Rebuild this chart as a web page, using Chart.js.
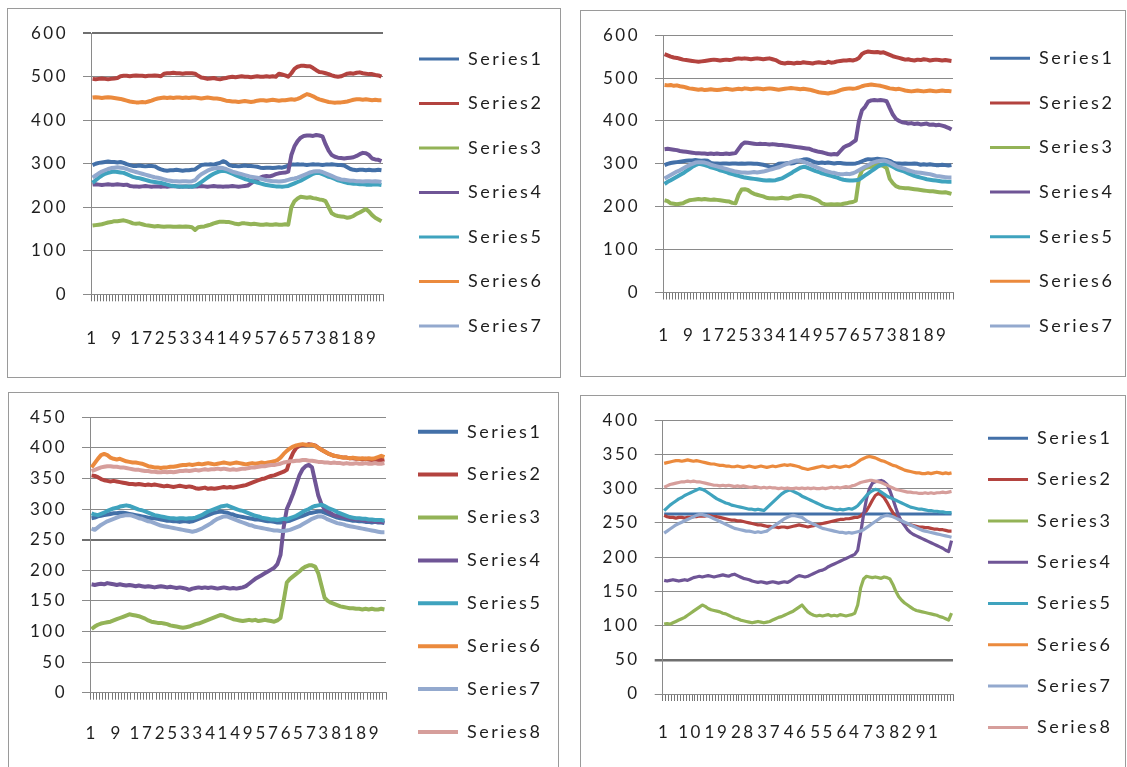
<!DOCTYPE html>
<html>
<head>
<meta charset="utf-8">
<title>Series overview</title>
<script src="https://cdn.jsdelivr.net/npm/chart.js@4.4.0/dist/chart.umd.min.js"></script>
<style>
  html, body { margin: 0; padding: 0; background: #ffffff; }
  body { position: relative; width: 1127px; height: 767px; overflow: hidden; }
  .frame { position: absolute; box-sizing: border-box; border: 1px solid #9a9a9a; background: #ffffff; }
  canvas { position: absolute; }
</style>
</head>
<body>
<div class="frame" style="left:7px;top:8px;width:554px;height:370px"></div>
<div class="frame" style="left:580px;top:10px;width:546px;height:367px"></div>
<div class="frame" style="left:8px;top:392px;width:551px;height:420px"></div>
<div class="frame" style="left:580px;top:395px;width:546px;height:420px"></div>
<canvas id="c1" width="554" height="370" style="left:7px;top:8px"></canvas>
<canvas id="c2" width="546" height="367" style="left:580px;top:10px"></canvas>
<canvas id="c3" width="551" height="375" style="left:8px;top:392px"></canvas>
<canvas id="c4" width="546" height="372" style="left:580px;top:395px"></canvas>
<script>
// ---------- data ----------
const SERIES_NAMES = ['Series1', 'Series2', 'Series3', 'Series4', 'Series5', 'Series6', 'Series7', 'Series8'];

// panel 1 (94 samples)
const p1Series1 = [297,300,302,303,304,305,304,304,303,304,302,299,297,295,295,296,295,294,295,295,294,290,287,285,284,285,285,286,285,284,285,285,286,287,292,297,298,298,299,298,300,302,306,303,297,295,295,294,295,296,295,295,294,293,291,290,291,291,290,291,292,291,293,296,298,298,299,298,298,297,298,299,298,298,297,298,298,299,298,297,297,296,292,288,286,285,286,286,285,286,285,285,286,285];
const p1Series2 = [495,494,495,496,495,494,495,496,497,501,502,502,501,502,503,502,502,501,502,502,503,502,501,507,508,508,509,508,508,507,508,508,508,507,502,498,497,495,496,497,495,494,496,497,499,500,499,500,501,500,500,499,500,501,500,500,501,500,501,500,507,505,503,500,508,518,523,525,525,524,524,520,515,511,510,508,506,503,501,500,501,504,507,508,507,509,510,508,507,506,506,504,503,500];
const p1Series3 = [158,159,160,161,163,165,166,168,168,169,170,168,166,163,162,163,161,159,158,157,156,157,156,155,156,156,155,155,156,155,156,155,154,148,154,155,156,158,160,163,165,167,167,166,166,164,162,161,163,163,162,161,162,161,160,160,161,160,160,161,160,160,161,160,200,214,220,224,223,222,223,221,220,218,217,214,200,186,182,180,179,178,176,177,180,185,188,192,196,190,182,176,172,168];
const p1Series4 = [252,253,252,251,252,253,252,252,253,252,251,252,249,248,248,247,248,249,248,247,248,248,247,248,247,248,249,248,247,248,248,247,248,248,248,249,248,247,248,249,248,248,247,248,248,249,248,247,248,249,250,255,260,264,268,271,272,271,273,276,278,279,280,282,320,340,352,360,364,365,365,364,366,365,363,345,330,320,316,314,313,312,313,314,315,318,322,325,324,320,312,310,309,306];
const p1Series5 = [256,262,268,273,277,279,281,282,281,280,279,276,273,270,268,267,265,263,261,259,258,257,256,254,252,250,249,248,248,247,248,248,247,249,253,258,263,268,273,277,280,283,284,283,280,277,274,271,268,265,263,261,259,257,255,253,251,250,249,248,248,247,248,249,252,255,258,261,265,269,273,277,279,279,276,273,270,268,265,262,260,258,256,255,254,254,253,253,252,252,252,253,252,251];
const p1Series6 = [452,453,452,451,452,453,452,451,450,449,447,445,443,442,441,441,442,441,443,445,448,450,451,452,451,452,451,452,452,451,452,451,452,452,451,450,451,452,451,450,450,449,447,445,444,443,443,442,443,444,443,442,443,445,446,446,445,446,447,446,445,446,446,447,448,447,449,452,456,460,458,455,451,448,446,444,442,441,440,441,441,442,443,445,447,448,448,447,448,447,446,447,446,446];
const p1Series7 = [268,273,278,282,285,288,290,291,292,291,290,288,285,283,281,279,277,275,273,271,269,268,266,264,262,261,260,260,259,260,260,259,260,262,270,276,280,284,287,289,290,291,290,288,285,282,280,278,276,274,272,270,269,268,266,264,262,261,260,260,259,260,261,263,265,266,268,271,274,277,280,282,283,283,281,278,275,272,269,266,264,263,262,261,261,260,260,259,260,260,259,260,259,258];

// panel 2 (94 samples)
const p2Series1 = [297,300,302,303,304,305,306,307,308,308,309,308,307,308,307,302,301,301,300,301,301,300,301,301,300,301,300,301,301,300,300,299,298,296,294,293,296,300,301,301,302,301,302,305,308,310,311,309,306,303,302,303,302,303,302,301,302,302,301,300,300,300,301,303,306,309,311,310,311,312,311,310,309,307,303,301,301,300,301,300,300,301,300,298,299,298,299,298,297,297,298,297,296,297];
const p2Series2 = [556,553,550,548,547,545,543,542,541,540,539,538,539,540,541,542,543,542,541,542,543,542,543,545,546,545,546,545,544,545,546,545,544,545,546,544,542,538,535,534,536,535,534,536,535,537,536,535,534,536,537,536,535,538,536,537,539,540,541,541,542,541,543,547,556,560,562,561,560,561,559,560,557,554,551,549,547,545,543,544,542,541,543,542,544,543,541,542,543,542,541,542,541,540];
const p2Series3 = [215,213,208,207,206,207,208,212,215,216,217,218,217,218,217,216,217,216,215,214,213,212,209,208,228,240,241,239,234,230,228,226,224,221,220,220,219,220,221,220,219,221,224,225,226,225,224,223,220,217,214,208,206,205,206,205,206,205,207,208,210,211,214,265,285,290,292,293,295,296,297,295,290,265,255,248,245,244,243,243,242,241,240,239,238,237,236,236,235,234,233,234,232,230];
const p2Series4 = [334,335,334,333,332,330,329,328,327,326,325,325,324,324,323,324,323,324,323,323,324,323,324,325,335,345,350,349,348,347,346,347,346,346,345,346,345,344,344,343,342,341,340,339,338,337,336,335,332,330,328,327,325,323,322,323,322,330,338,342,345,350,355,400,425,433,445,448,449,448,449,448,446,430,415,405,400,397,396,394,395,393,394,392,393,394,391,392,390,391,389,387,384,380];
const p2Series5 = [253,258,262,266,270,274,278,283,288,293,297,300,299,297,295,292,290,288,285,283,281,278,276,274,272,270,268,267,266,265,264,263,262,261,262,261,262,264,266,270,274,278,283,287,291,293,292,289,286,283,281,278,276,274,272,270,268,265,263,262,261,261,262,263,268,273,278,283,288,293,297,299,300,297,293,289,286,284,281,278,275,272,270,268,266,264,263,262,261,260,259,259,258,258];
const p2Series6 = [484,483,484,482,483,481,480,478,476,475,474,473,474,472,473,474,473,472,473,474,475,474,473,474,475,474,476,475,474,475,476,475,474,475,476,475,474,473,474,475,476,477,476,475,474,475,474,473,471,469,467,466,465,464,466,467,469,472,474,475,476,475,476,478,481,483,484,485,484,483,482,480,478,476,475,474,475,473,471,470,469,470,471,470,469,470,471,470,469,470,471,470,470,469];
const p2Series7 = [266,270,274,278,282,285,289,293,297,300,303,304,304,303,301,298,296,294,292,290,288,286,284,282,281,280,280,279,280,281,280,281,282,284,286,288,290,292,295,298,301,304,306,308,307,305,302,299,296,293,290,287,284,282,280,279,277,276,276,277,276,278,281,285,289,293,297,301,304,306,307,308,306,303,299,295,292,290,288,285,283,281,280,279,278,277,276,274,272,271,270,269,268,268];

// panel 3 (94 samples)
const p3Series1 = [285,286,288,289,290,291,292,293,293,294,294,293,292,291,290,289,288,287,286,285,285,284,283,282,281,281,280,280,279,280,280,279,280,282,284,286,288,290,292,294,295,296,295,294,292,291,289,288,287,286,285,284,283,283,282,281,280,280,279,278,278,279,280,281,283,285,287,289,291,293,294,295,296,296,294,292,290,288,286,285,284,283,282,281,281,280,280,279,279,278,279,278,278,277];
const p3Series2 = [355,354,352,349,347,346,345,346,345,344,343,342,341,341,340,341,340,339,340,339,340,339,338,337,338,337,336,337,338,337,336,337,336,334,333,334,335,333,334,333,334,335,336,335,336,335,336,337,338,339,341,343,345,347,349,350,352,354,355,357,359,361,364,380,392,400,403,405,404,406,405,404,400,397,394,391,389,387,386,385,384,384,383,383,382,382,381,382,381,380,381,380,380,381];
const p3Series3 = [104,108,111,113,114,115,116,118,120,122,124,126,128,127,126,125,123,121,118,116,115,114,114,113,112,110,109,108,107,106,107,108,110,112,113,115,117,119,121,123,125,127,126,124,122,120,119,118,117,118,119,118,119,117,118,119,118,117,116,118,122,150,180,186,190,194,198,203,206,208,208,206,195,175,155,150,147,145,143,141,140,139,138,138,137,137,136,137,136,137,136,136,137,136];
const p3Series4 = [177,176,177,178,177,179,178,177,176,177,176,175,176,175,174,175,174,173,174,173,172,173,174,173,172,173,172,171,172,171,170,168,170,171,172,171,172,171,172,171,170,171,172,171,170,171,170,171,172,174,178,182,186,189,192,195,198,201,204,210,225,270,300,312,325,340,355,365,370,372,368,345,322,308,300,296,293,290,289,288,287,286,285,284,283,283,282,281,281,280,280,279,279,278];
const p3Series5 = [293,291,290,292,294,297,299,301,302,304,305,306,305,303,301,299,298,296,294,292,290,289,288,287,286,285,285,284,285,285,284,285,285,286,288,290,293,296,298,300,302,304,305,306,304,302,300,298,297,295,293,291,289,288,286,285,284,283,283,282,283,284,283,285,287,289,292,295,298,300,303,305,306,307,305,302,300,298,295,293,291,289,287,286,285,285,284,284,283,283,282,282,282,281];
const p3Series6 = [368,375,382,388,390,388,384,382,381,382,380,378,377,376,376,375,374,372,370,369,368,368,367,368,368,369,369,370,371,372,372,373,372,373,374,373,374,375,374,373,374,375,376,375,374,375,376,375,374,373,374,375,374,375,376,375,376,377,378,380,384,390,395,399,402,404,405,406,405,404,405,403,400,397,394,391,389,387,386,385,384,384,383,384,383,382,383,382,383,382,383,385,387,385];
const p3Series7 = [268,266,270,274,277,280,282,284,286,288,289,290,290,289,287,285,284,282,280,279,277,275,273,272,271,270,269,268,267,266,265,264,263,264,266,268,271,274,277,281,284,286,288,288,286,284,282,280,278,276,274,273,271,270,269,268,267,266,265,265,264,264,265,266,268,270,272,275,278,281,284,286,288,288,286,283,281,279,277,276,275,273,272,271,270,269,268,267,266,265,264,263,262,262];
const p3Series8 = [362,364,366,368,369,370,370,369,369,368,368,367,366,365,364,364,363,362,362,361,361,360,360,361,360,361,360,361,362,362,363,362,363,364,363,364,365,364,365,365,366,365,366,365,364,365,364,365,366,366,367,368,368,369,370,370,371,372,372,373,374,376,377,378,378,379,379,380,380,379,379,378,377,377,376,376,375,376,375,375,374,375,374,374,375,374,374,375,374,374,375,374,374,375];

// panel 4 (99 samples)
const p4Series1 = [263,263,263,263,263,263,263,263,263,263,263,263,263,263,263,263,263,263,263,263,263,263,263,263,263,263,263,263,263,263,263,263,263,263,263,263,263,263,263,263,263,263,263,263,263,263,263,263,263,263,263,263,263,263,263,263,263,263,263,263,263,263,263,263,263,263,263,263,263,263,263,263,263,263,263,263,263,263,263,263,263,263,263,263,263,263,263,263,263,263,263,263,263,263,263,263,263,263,263];
const p4Series2 = [261,259,258,258,257,258,258,257,258,258,259,259,260,260,260,261,260,259,259,258,257,256,255,254,254,253,253,252,251,250,249,248,247,247,246,245,245,244,244,243,244,244,243,244,245,246,247,246,245,244,245,246,247,248,249,250,251,252,253,254,255,255,256,256,257,258,258,260,264,268,275,283,290,293,291,287,280,272,265,259,255,252,250,248,247,246,245,244,244,243,243,242,241,241,240,240,239,238,238];
const p4Series3 = [102,103,102,104,106,108,110,112,115,118,121,124,127,130,128,125,123,122,121,120,118,117,115,113,111,110,108,107,106,105,104,105,106,105,104,105,106,108,110,112,113,115,117,119,121,124,127,130,125,120,117,115,114,115,114,115,116,114,115,114,116,115,114,115,116,118,130,155,168,172,171,170,171,170,169,171,170,168,160,150,142,137,133,130,127,124,122,121,120,119,118,117,116,115,113,112,110,108,118];
const p4Series4 = [166,165,166,167,166,165,166,167,166,168,170,171,172,171,172,173,172,171,172,173,174,173,172,174,175,173,171,169,168,167,165,164,163,164,163,162,163,164,163,162,163,164,163,165,168,171,173,172,171,172,174,176,178,180,181,183,186,188,190,192,194,196,198,200,202,204,210,235,262,285,300,308,310,311,312,310,306,297,285,272,260,252,246,240,236,233,231,229,227,225,223,221,219,217,215,213,210,208,224];
const p4Series5 = [268,272,276,279,282,285,287,290,292,294,296,298,300,299,297,294,291,288,285,283,281,279,278,276,275,274,273,272,271,270,270,269,270,269,268,272,276,280,284,288,292,295,297,298,296,294,292,289,287,285,283,281,279,277,275,273,272,271,270,269,270,269,270,271,270,272,275,280,285,290,294,297,299,298,295,292,289,287,285,283,281,279,277,275,273,272,271,270,270,269,268,268,267,267,266,266,265,265,265];
const p4Series6 = [337,338,339,340,341,341,340,341,342,341,340,341,340,339,338,337,336,336,335,334,334,333,333,332,332,333,332,331,332,333,332,331,332,333,332,331,332,333,332,333,334,335,334,335,334,333,332,330,329,328,329,330,331,332,333,332,331,332,333,332,331,332,333,332,334,336,339,342,344,346,347,346,345,343,341,340,338,336,334,333,331,329,327,326,325,324,323,323,322,322,323,322,323,324,323,322,323,322,323];
const p4Series7 = [235,238,241,244,247,249,251,253,255,257,259,261,262,262,261,260,258,256,254,252,250,248,246,244,242,241,240,239,238,238,237,236,237,236,237,238,241,244,247,250,253,256,258,260,261,260,259,258,255,252,250,248,246,244,242,241,240,239,238,237,236,236,235,236,235,236,237,238,240,243,246,249,252,255,258,260,261,260,259,257,255,253,251,249,247,245,243,241,239,238,237,236,235,234,233,232,231,230,229];
const p4Series8 = [302,304,306,307,308,309,310,310,311,310,311,310,310,309,308,307,306,305,305,304,305,304,305,304,303,304,303,304,303,302,302,303,302,301,302,301,302,301,301,300,301,300,301,300,300,301,300,301,300,301,300,301,300,300,301,300,301,302,301,302,301,302,303,302,304,305,307,309,310,311,312,312,311,310,309,307,305,303,301,299,298,297,296,295,295,294,294,293,293,294,293,294,293,294,294,295,294,295,296];

// category labels: sample numbers, every 8th (or 9th) one printed
const p1Categories = p1Series1.map((_, i) => String(i + 1));
const p2Categories = p2Series1.map((_, i) => String(i + 1));
const p3Categories = p3Series1.map((_, i) => String(i + 1));
const p4Categories = p4Series1.map((_, i) => String(i + 1));
const p1LabelEvery = 8, p2LabelEvery = 8, p3LabelEvery = 8, p4LabelEvery = 9;
const p1Max = 600, p2Max = 600, p3Max = 450, p4Max = 400;
const p1Step = 100, p2Step = 100, p3Step = 50, p4Step = 50;

// ---------- styling ----------
const LINE_COLORS = ['#4370A8', '#B3433F', '#93B357', '#6F5596', '#3FA3BE', '#EB8A3D', '#93A9CE', '#D69E9B'];
const GRID = '#8a8a8a';
const TICK_MARK = '#767676';
const INK = '#1e1e1e';
const FAMILY = 'Lato, "Open Sans", "DejaVu Sans", sans-serif';
const TICK_SIZE = 17;
const LEGEND_SIZE = 18;

// slightly spaced lettering for all chart text
const spacedText = {
  id: 'spacedText',
  beforeUpdate(chart, args, opts) { chart.ctx.letterSpacing = opts.spacing; },
  beforeLayout(chart, args, opts) { chart.ctx.letterSpacing = opts.spacing; },
  beforeDraw(chart, args, opts) { chart.ctx.letterSpacing = opts.spacing; }
};

// puts the legend block at a fixed spot to the right of the plot
const legendSpot = {
  id: 'legendSpot',
  afterLayout(chart, args, opts) {
    const lg = chart.legend;
    if (!lg || opts.x === undefined) return;
    const pad = opts.pad;
    lg.left = opts.x - pad;
    lg.top = opts.y - pad - LEGEND_SIZE / 2;
    lg.right = chart.width;
    lg.bottom = chart.height + 400;
    lg.width = lg.right - lg.left;
    lg.height = lg.bottom - lg.top;
  }
};

function buildPanel(canvasId, spec) {
  const datasets = spec.series.map((values, k) => ({
    label: SERIES_NAMES[k],
    data: values,
    borderColor: LINE_COLORS[k],
    backgroundColor: LINE_COLORS[k],
    borderWidth: spec.lineWidth,
    borderJoinStyle: 'round',
    pointRadius: 0,
    pointHoverRadius: 0,
    tension: 0,
    fill: false,
    order: -k
  }));
  const padding = { left: 0, top: 0, right: 0, bottom: 0 };
  const rowGap = spec.rowSpacing - LEGEND_SIZE;
  const chart = new Chart(document.getElementById(canvasId), {
    type: 'line',
    data: { labels: spec.categories, datasets },
    options: {
      responsive: false,
      animation: false,
      devicePixelRatio: 1,
      events: [],
      layout: { padding },
      plugins: {
        tooltip: { enabled: false },
        spacedText: { spacing: '2.5px' },
        legendSpot: { x: spec.legendX, y: spec.legendY, pad: rowGap },
        legend: {
          display: true,
          position: 'chartArea',
          align: 'start',
          labels: {
            boxWidth: 40,
            boxHeight: spec.keyHeight,
            padding: rowGap,
            color: INK,
            font: { family: FAMILY, size: LEGEND_SIZE },
            sort: (a, b) => a.datasetIndex - b.datasetIndex,
            generateLabels(c) {
              const items = Chart.defaults.plugins.legend.labels.generateLabels(c);
              items.forEach(it => { it.fillStyle = it.strokeStyle; it.lineWidth = 0; });
              return items;
            }
          }
        }
      },
      scales: {
        x: {
          type: 'category',
          offset: true,
          grid: {
            display: true, offset: true, drawOnChartArea: false, drawTicks: true,
            tickLength: 7, color: TICK_MARK, lineWidth: 1
          },
          border: { display: true, color: GRID, width: 1 },
          ticks: {
            autoSkip: false, maxRotation: 0, minRotation: 0,
            padding: spec.xPad, color: INK,
            font: { family: FAMILY, size: TICK_SIZE },
            callback: (value, index) => (index % spec.labelEvery === 0 ? spec.categories[index] : '')
          }
        },
        y: {
          min: 0,
          max: spec.max,
          ticks: {
            stepSize: spec.step, padding: 15, color: INK,
            font: { family: FAMILY, size: TICK_SIZE }
          },
          grid: {
            drawTicks: true,
            tickLength: 8,
            color: (c) => (c.tick && c.tick.value === spec.heavyAt ? '#6f6f6f' : GRID),
            lineWidth: (c) => (c.tick && c.tick.value === spec.heavyAt ? spec.heavyWidth : 1)
          },
          border: { display: true, color: GRID, width: 1 }
        }
      }
    },
    plugins: [spacedText, legendSpot]
  });
  // nudge the outer padding until the plot rectangle sits where it should
  for (let pass = 0; pass < 4; pass++) {
    const ca = chart.chartArea;
    padding.left += spec.plot.l - ca.left;
    padding.top += spec.plot.t - ca.top;
    padding.right += ca.right - spec.plot.r;
    padding.bottom += ca.bottom - spec.plot.b;
    chart.update('none');
  }
  return chart;
}

buildPanel('c1', {
  series: [p1Series1, p1Series2, p1Series3, p1Series4, p1Series5, p1Series6, p1Series7],
  categories: p1Categories, labelEvery: p1LabelEvery, max: p1Max, step: p1Step,
  plot: { l: 84, t: 26.3, r: 376, b: 286.3 },
  xPad: 27, lineWidth: 4, keyHeight: 3,
  legendX: 412, legendY: 51, rowSpacing: 44.5,
  heavyAt: 600, heavyWidth: 2
});
buildPanel('c2', {
  series: [p2Series1, p2Series2, p2Series3, p2Series4, p2Series5, p2Series6, p2Series7],
  categories: p2Categories, labelEvery: p2LabelEvery, max: p2Max, step: p2Step,
  plot: { l: 83, t: 27.5, r: 373, b: 282.5 },
  xPad: 25.5, lineWidth: 4, keyHeight: 3,
  legendX: 410, legendY: 48.3, rowSpacing: 44.6,
  heavyAt: -1, heavyWidth: 1
});
buildPanel('c3', {
  series: [p3Series1, p3Series2, p3Series3, p3Series4, p3Series5, p3Series6, p3Series7, p3Series8],
  categories: p3Categories, labelEvery: p3LabelEvery, max: p3Max, step: p3Step,
  plot: { l: 82, t: 26.3, r: 378, b: 300.7 },
  xPad: 24, lineWidth: 4, keyHeight: 4,
  legendX: 410, legendY: 39.7, rowSpacing: 42.9,
  heavyAt: 250, heavyWidth: 2
});
buildPanel('c4', {
  series: [p4Series1, p4Series2, p4Series3, p4Series4, p4Series5, p4Series6, p4Series7, p4Series8],
  categories: p4Categories, labelEvery: p4LabelEvery, max: p4Max, step: p4Step,
  plot: { l: 82.7, t: 25, r: 373, b: 299 },
  xPad: 21.5, lineWidth: 3.2, keyHeight: 3,
  legendX: 408, legendY: 43.3, rowSpacing: 41.3,
  heavyAt: 50, heavyWidth: 2.5
});
</script>
</body>
</html>
